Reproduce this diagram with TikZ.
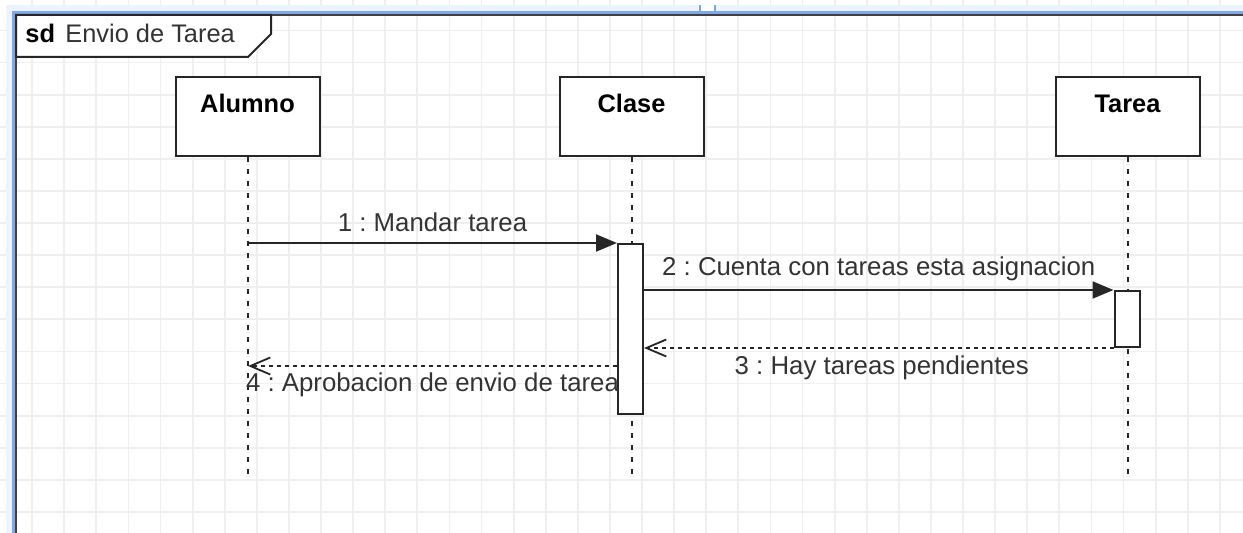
\documentclass[tikz,border=0pt]{standalone}
\usepackage{fontspec}
\setmainfont{Liberation Sans}
\usepackage{tikz}
\usetikzlibrary{arrows.meta,positioning}
\usepackage{xcolor}
\frenchspacing
\definecolor{gridgray}{HTML}{EFEFEF}
\definecolor{selblue}{HTML}{7DA9EC}
\definecolor{selpale}{HTML}{EDF4FD}
\definecolor{textgray}{HTML}{333333}
\tikzstyle{lifebox} = [rectangle, draw=black!85, line width=1pt, fill=white, minimum width=72pt, inner xsep=0pt, inner ysep=0pt, text height=18pt, text depth=21.5pt, font=\fontsize{12.7}{15}\selectfont\bfseries]
\tikzstyle{lifeline} = [draw=black!85, line width=1pt, dash pattern=on 2.5pt off 3.5pt]
\tikzstyle{activation} = [rectangle, draw=black!85, line width=1pt, fill=white, minimum width=12.5pt, inner sep=0pt, anchor=north]
\tikzstyle{call} = [draw=black!85, line width=1pt, -{Triangle[length=10.5pt,width=8.5pt]}]
\tikzstyle{reply} = [draw=black!85, line width=0.9pt, dash pattern=on 2pt off 2pt, -{Straight Barb[length=10pt,width=8.5pt,line width=0.9pt]}]
\tikzstyle{msg} = [text=textgray, font=\fontsize{12.9}{15}\selectfont, inner sep=0pt, anchor=base]

\begin{document}
\begin{tikzpicture}[x=0.5pt, y=-0.5pt]
    \useasboundingbox (0,0) rectangle (1243,533);
    % Background grid
    \foreach \i in {1,...,38}
        \draw[gridgray, line width=0.9pt] ({\i*32.1},0) -- ({\i*32.1},533);
    \foreach \j in {0,...,15}
        \draw[gridgray, line width=0.9pt] (0,{30.5+\j*32.1}) -- (1243,{30.5+\j*32.1});

    % Selection outline of the frame
    \fill[selpale] (6,5) rectangle (1243,12);
    \fill[selpale] (6,5) rectangle (12,533);
    \draw[selblue, line width=1.5pt] (13.5,533) -- (13.5,12.5) -- (1243,12.5);
    \fill[white] (700,0) rectangle (714,11.5);
    \draw[selblue, line width=1pt] (699.5,5) -- (699.5,12) (714.5,5) -- (714.5,12);

    % Frame
    \draw[black!75, line width=1pt] (16,533) -- (16,15) -- (1243,15);
    \draw[black!85, line width=1pt, fill=white] (16,15) -- (271,15) -- (271,34) -- (248,57) -- (16,57) -- cycle;
    \node (sdtag) [anchor=base west, inner sep=0pt, font=\fontsize{12.7}{15}\selectfont\bfseries] at (25,43) {sd};
    \node (sdname) [anchor=base west, inner sep=0pt, text=textgray, font=\fontsize{12.7}{15}\selectfont] at (65,43) {Envio de Tarea};

    % Lifelines
    \node (alumno) [lifebox] at (247.5,116.5) {Alumno};
    \node (clase) [lifebox] at (631.5,116.5) {Clase};
    \node (tarea) [lifebox] at (1127.5,116.5) {Tarea};
    \coordinate (alumnoend) at (248,476);
    \coordinate (claseend) at (632,476);
    \coordinate (tareaend) at (1128,476);
    \draw[lifeline] (alumno.south -| alumnoend) -- (alumnoend);
    \draw[lifeline] (clase.south -| claseend) -- (claseend);
    \draw[lifeline] (tarea.south -| tareaend) -- (tareaend);

    % Activations
    \node (claseact) [activation, minimum height=85pt] at (630.5,243) {};
    \node (tareaact) [activation, minimum height=28pt] at (1127,290) {};

    % Messages
    \coordinate (msgone) at (248,243);
    \coordinate (msgfour) at (248,366);
    \draw[call] (msgone) -- node (lblone) [msg, yshift=5.5pt] {1 : Mandar tarea} (claseact.north west);
    \draw[call] (claseact.east |- tareaact.north) -- node (lbltwo) [msg, yshift=7pt] {2 : Cuenta con tareas esta asignacion} (tareaact.north west);
    \draw[reply] (tareaact.south west) -- node (lblthree) [msg, yshift=-13.5pt, xshift=1.5pt] {3 : Hay tareas pendientes} (claseact.east |- tareaact.south);
    \draw[reply] (claseact.west |- msgfour) -- node (lblfour) [msg, yshift=-13pt] {4 : Aprobacion de envio de tarea} (msgfour);

\end{tikzpicture}
\end{document}
